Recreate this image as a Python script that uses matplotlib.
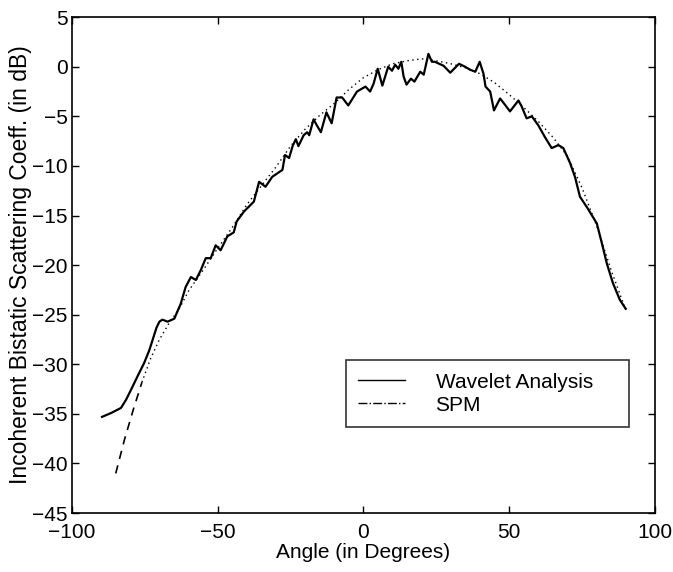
import numpy as np
import matplotlib.pyplot as plt
from matplotlib.lines import Line2D

plt.rcParams['font.family'] = ['Liberation Sans', 'DejaVu Sans']

# incoherent bistatic scattering coefficient, wavelet analysis
wav_angle = [-89.7, -86.5, -83.2, -81.5, -79.8, -77.5, -75.3, -73.5, -72.3, -71.0,
             -70.0, -69.0, -67.2, -64.9, -62.7, -61.0, -59.2, -57.5, -55.8, -54.1,
             -52.4, -50.7, -49.0, -46.7, -44.5, -43.5, -41.0, -37.6, -35.8, -33.6,
             -31.3, -27.8, -26.9, -25.5, -24.3, -23.2, -22.3, -20.5, -19.3, -18.6,
             -17.1, -16.0, -14.6, -12.7, -10.9, -9.2, -7.3, -5.2, -2.2, 0.7,
             2.3, 3.5, 4.9, 6.5, 8.5, 9.8, 10.9, 12.0, 13.0, 13.8,
             14.8, 16.3, 17.5, 19.5, 20.7, 22.3, 23.5, 24.5, 26.0, 27.5,
             29.8, 32.8, 34.9, 36.6, 38.4, 39.9, 41.2, 41.9, 43.5, 44.8,
             46.9, 48.5, 50.3, 53.2, 54.3, 56.0, 57.8, 60.0, 62.3, 64.6,
             66.9, 68.6, 70.9, 72.6, 74.3, 77.0, 80.1, 82.0, 83.5, 85.6,
             88.0, 90.0]
wav_db = [-35.3, -34.9, -34.4, -33.6, -32.6, -31.2, -29.9, -28.6, -27.5, -26.3,
          -25.7, -25.5, -25.7, -25.4, -23.9, -22.2, -21.2, -21.5, -20.5, -19.3,
          -19.3, -18.0, -18.5, -17.1, -16.7, -15.6, -14.6, -13.6, -11.6, -12.1,
          -11.1, -10.4, -8.9, -9.2, -8.0, -7.3, -8.0, -6.9, -6.6, -6.9,
          -5.3, -5.9, -6.6, -4.6, -5.7, -3.1, -3.1, -3.9, -2.5, -2.0,
          -2.5, -1.7, -0.2, -1.9, 0.0, -0.4, 0.2, -0.2, 0.5, -1.0,
          -1.8, -1.2, -1.5, -0.5, -0.8, 1.3, 0.5, 0.5, 0.3, 0.1,
          -0.6, 0.3, 0.0, -0.3, -0.5, 0.5, -0.7, -2.0, -2.5, -4.4,
          -3.2, -3.8, -4.5, -3.4, -4.0, -5.2, -5.0, -5.9, -7.1, -8.2,
          -7.9, -8.2, -9.7, -11.1, -13.1, -14.3, -15.8, -18.0, -19.8, -21.8,
          -23.5, -24.4]

# small perturbation method
spm_angle = [-85, -82, -79, -76, -73, -70, -67, -63, -60, -55, -50, -45, -40, -35,
             -30, -25, -20, -15, -10, -5, 0, 5, 10, 15, 20, 25, 30, 35, 40, 45,
             50, 55, 60, 65, 70, 75, 80, 85, 90]
spm_db = [-41.0, -37.6, -34.6, -31.8, -29.4, -27.5, -26.0, -24.3, -22.6, -20.5,
          -18.3, -16.2, -13.9, -12.0, -10.1, -8.0, -6.3, -4.9, -3.7, -2.3,
          -1.1, -0.3, 0.3, 0.6, 0.8, 0.6, 0.3, -0.1, -0.7, -1.6,
          -2.8, -4.1, -5.5, -7.1, -9.0, -12.2, -16.0, -20.5, -24.5]

fig = plt.figure(figsize=(6.73, 5.72), dpi=100)
ax = fig.add_axes([0.107, 0.103, 0.866, 0.867])

ax.plot(wav_angle, wav_db, color='black', linewidth=1.6)

# the steep tail shows as dashes, the rest as fine dots
n_tail = 4
ax.plot(spm_angle[:n_tail], spm_db[:n_tail], color='black', linewidth=1.2,
        linestyle=(0, (5, 4)))
ax.plot(spm_angle[n_tail - 1:], spm_db[n_tail - 1:], color='black', linewidth=1.0,
        linestyle=(0, (1, 2.5)))

ax.set_xlim(-100, 100)
ax.set_ylim(-45, 5)
ax.set_xticks([-100, -50, 0, 50, 100])
ax.set_yticks(np.arange(-45, 6, 5))
ax.tick_params(direction='in', top=True, right=True, length=5, width=1,
               labelsize=15)
ax.tick_params(axis='x', pad=7)
ax.tick_params(axis='y', pad=3)
for s in ax.spines.values():
    s.set_linewidth(1.2)

ax.set_xlabel('Angle (in Degrees)', fontsize=15, labelpad=1)
ax.set_ylabel('Incoherent Bistatic Scattering Coeff. (in dB)', fontsize=16.5,
              labelpad=0)

handles = [Line2D([], [], color='black', linewidth=1.0),
           Line2D([], [], color='black', linewidth=1.0, linestyle='-.')]
leg = ax.legend(handles, ['Wavelet Analysis', 'SPM'], loc='lower left',
                bbox_to_anchor=(0.47, 0.173, 0.485, 0.15), mode='expand',
                fontsize=15, frameon=True, fancybox=False, handlelength=2.25,
                handletextpad=1.45, borderpad=0.6, labelspacing=0.2,
                borderaxespad=0)
leg.get_frame().set_edgecolor('black')
leg.get_frame().set_linewidth(1.2)

fig.savefig('out.png', dpi=100)
